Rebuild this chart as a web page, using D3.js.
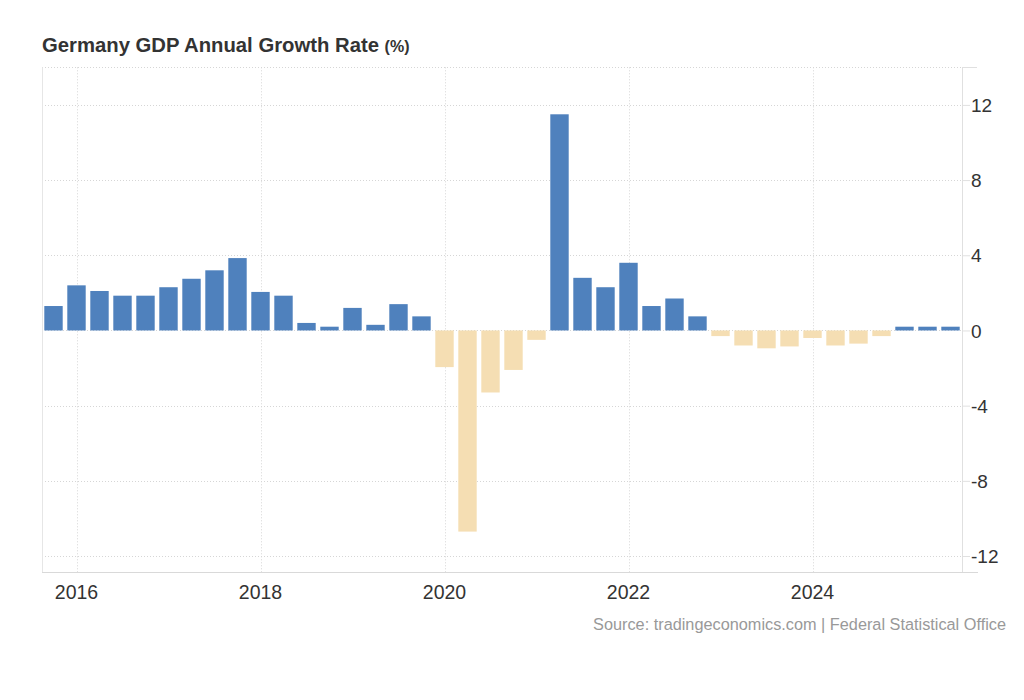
<!DOCTYPE html>
<html>
<head>
<meta charset="utf-8">
<script src="https://cdn.jsdelivr.net/npm/d3@7"></script>
<style>
  body { margin: 0; background: #fff; }
  text { font-family: "Liberation Sans", Arial, sans-serif; }
</style>
</head>
<body>
<svg id="chart" width="1024" height="700"></svg>
<script>
// quarters from 2015 Q4 to 2025 Q3
var quarters = ["2015Q4",
  "2016Q1","2016Q2","2016Q3","2016Q4",
  "2017Q1","2017Q2","2017Q3","2017Q4",
  "2018Q1","2018Q2","2018Q3","2018Q4",
  "2019Q1","2019Q2","2019Q3","2019Q4",
  "2020Q1","2020Q2","2020Q3","2020Q4",
  "2021Q1","2021Q2","2021Q3","2021Q4",
  "2022Q1","2022Q2","2022Q3","2022Q4",
  "2023Q1","2023Q2","2023Q3","2023Q4",
  "2024Q1","2024Q2","2024Q3","2024Q4",
  "2025Q1","2025Q2","2025Q3"];

var growth = [1.3,
  2.4, 2.1, 1.85, 1.85,
  2.3, 2.75, 3.2, 3.85,
  2.05, 1.85, 0.4, 0.2,
  1.2, 0.3, 1.4, 0.75,
  -1.95, -10.7, -3.3, -2.1,
  -0.5, 11.5, 2.8, 2.3,
  3.6, 1.3, 1.7, 0.75,
  -0.3, -0.8, -0.95, -0.85,
  -0.4, -0.8, -0.7, -0.3,
  0.2, 0.2, 0.2];

var yearTicks = ["2016Q1","2018Q1","2020Q1","2022Q1","2024Q1"];
var yearLabels = ["2016","2018","2020","2022","2024"];
var yTicks = [-12, -8, -4, 0, 4, 8, 12];

function drawChart(){
	var pLeft = 42, pRight = 962, pTop = 67.3, pBottom = 572;
	var gridCor = "#d6d6d6";

	var svg = d3.select("#chart");

	var x = d3.scaleBand()
		.domain(quarters)
		.range([pLeft, pRight])
		.paddingInner(0.2)
		.paddingOuter(0.1);

	var y = d3.scaleLinear()
		.domain([-12.85, 14])
		.range([pBottom, pTop]);

	// title
	var title = svg.append("text")
		.attr("x", 42)
		.attr("y", 52)
		.attr("fill", "#333")
		.style("font-weight", "bold")
		.style("font-size", "20.3px")
		.text("Germany GDP Annual Growth Rate ");
	title.append("tspan")
		.style("font-size", "16px")
		.text("(%)");

	// horizontal grid (dotted)
	var grid = svg.append("g");
	grid.selectAll("line.h")
		.data(yTicks.concat([14]))
		.enter().append("line")
		.attr("x1", pLeft)
		.attr("x2", pRight)
		.attr("y1", d => Math.round(y(d)) + 0.5)
		.attr("y2", d => Math.round(y(d)) + 0.5)
		.attr("stroke", gridCor)
		.attr("stroke-dasharray", "1,2");

	// vertical grid at years
	grid.selectAll("line.v")
		.data(yearTicks)
		.enter().append("line")
		.attr("x1", d => Math.round(x(d) + x.bandwidth() / 2) + 0.5)
		.attr("x2", d => Math.round(x(d) + x.bandwidth() / 2) + 0.5)
		.attr("y1", pTop)
		.attr("y2", pBottom)
		.attr("stroke", gridCor)
		.attr("stroke-dasharray", "1,2");

	// left frame
	svg.append("line")
		.attr("x1", pLeft + 0.5).attr("x2", pLeft + 0.5)
		.attr("y1", pTop).attr("y2", pBottom)
		.attr("stroke", "#e6e6e6");

	// bars
	svg.append("g")
		.selectAll("rect")
		.data(quarters)
		.enter().append("rect")
		.attr("x", d => x(d))
		.attr("width", x.bandwidth())
		.attr("y", (d, i) => y(Math.max(0, growth[i])))
		.attr("height", (d, i) => Math.abs(y(growth[i]) - y(0)))
		.attr("fill", (d, i) => growth[i] >= 0 ? "#4f81bd" : "#f5deb3");

	// right y axis
	var yAxis = d3.axisRight(y)
		.tickValues(yTicks)
		.tickSize(8)
		.tickPadding(1)
		.tickFormat(d => String(d));

	var ya = svg.append("g")
		.attr("transform", "translate(" + pRight + ",0)")
		.call(yAxis);
	ya.select(".domain").attr("stroke", "#e0e0e0").attr("d", "M0.5," + pTop + "V" + pBottom);
	ya.selectAll(".tick line").attr("stroke", "#e0e0e0");
	ya.selectAll(".tick text")
		.attr("fill", "#333")
		.style("font-size", "19px")
		.attr("dy", "0.35em");

	// top tick extension
	svg.append("line")
		.attr("x1", pRight).attr("x2", pRight + 15)
		.attr("y1", Math.round(pTop) + 0.5).attr("y2", Math.round(pTop) + 0.5)
		.attr("stroke", "#e0e0e0");

	// bottom x axis
	var xAxis = d3.axisBottom(x)
		.tickValues(yearTicks)
		.tickSize(0)
		.tickPadding(13)
		.tickFormat((d, i) => yearLabels[i]);

	var xa = svg.append("g")
		.attr("transform", "translate(0," + pBottom + ")")
		.call(xAxis);
	xa.select(".domain").attr("stroke", "#d9d9d9").attr("d", "M" + pLeft + ",0.5H" + (pRight + 16));
	xa.selectAll(".tick text")
		.attr("fill", "#333")
		.style("font-size", "19.5px");

	// source
	svg.append("text")
		.attr("x", 1006)
		.attr("y", 630)
		.attr("text-anchor", "end")
		.attr("fill", "#999")
		.style("font-size", "16.3px")
		.text("Source: tradingeconomics.com | Federal Statistical Office");
}

drawChart();
</script>
</body>
</html>
